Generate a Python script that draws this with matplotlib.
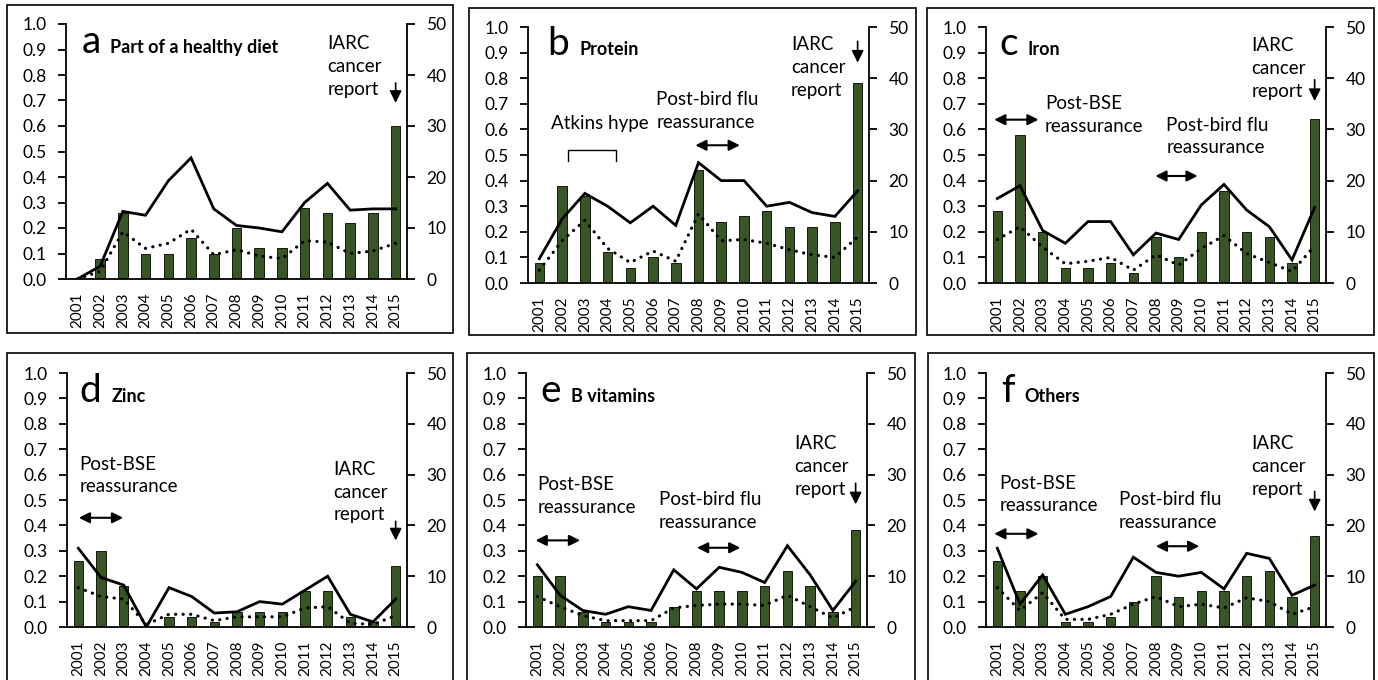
import matplotlib
matplotlib.use("Agg")
import matplotlib.pyplot as plt
import numpy as np
from matplotlib.patches import Rectangle

plt.rcParams['font.family'] = ['Lato', 'DejaVu Sans']

years = [str(y) for y in range(2001, 2016)]

# bars: counts (right axis), solid / dotted lines: proportions (left axis)
counts_a = [0, 4, 13, 5, 5, 8, 5, 10, 6, 6, 14, 13, 11, 13, 30]
solid_a = [0.0, 0.05, 0.265, 0.25, 0.385, 0.475, 0.275, 0.21, 0.20, 0.185, 0.30, 0.375, 0.27, 0.275, 0.275]
dotted_a = [0.0, 0.03, 0.185, 0.12, 0.14, 0.195, 0.095, 0.115, 0.09, 0.08, 0.15, 0.145, 0.10, 0.11, 0.14]

counts_b = [4, 19, 17, 6, 3, 5, 4, 22, 12, 13, 14, 11, 11, 12, 39]
solid_b = [0.095, 0.25, 0.35, 0.30, 0.235, 0.30, 0.225, 0.47, 0.40, 0.40, 0.30, 0.315, 0.275, 0.26, 0.36]
dotted_b = [0.05, 0.165, 0.245, 0.135, 0.08, 0.125, 0.085, 0.27, 0.165, 0.17, 0.155, 0.13, 0.11, 0.10, 0.18]

counts_c = [14, 29, 10, 3, 3, 4, 2, 9, 5, 10, 18, 10, 9, 4, 32]
solid_c = [0.33, 0.38, 0.205, 0.155, 0.24, 0.24, 0.11, 0.195, 0.17, 0.305, 0.385, 0.285, 0.22, 0.09, 0.295]
dotted_c = [0.17, 0.22, 0.14, 0.075, 0.085, 0.10, 0.05, 0.11, 0.07, 0.135, 0.185, 0.115, 0.08, 0.045, 0.145]

counts_d = [13, 15, 8, 0, 2, 2, 1, 3, 3, 3, 7, 7, 2, 1, 12]
solid_d = [0.31, 0.195, 0.165, 0.0, 0.155, 0.12, 0.055, 0.06, 0.10, 0.09, 0.145, 0.20, 0.05, 0.02, 0.11]
dotted_d = [0.155, 0.12, 0.11, 0.01, 0.05, 0.05, 0.025, 0.04, 0.04, 0.04, 0.075, 0.08, 0.015, 0.01, 0.045]

counts_e = [10, 10, 3, 1, 1, 1, 4, 7, 7, 7, 8, 11, 8, 3, 19]
solid_e = [0.245, 0.125, 0.065, 0.05, 0.08, 0.065, 0.225, 0.15, 0.235, 0.215, 0.175, 0.32, 0.205, 0.065, 0.18]
dotted_e = [0.12, 0.08, 0.045, 0.025, 0.025, 0.025, 0.075, 0.085, 0.09, 0.09, 0.085, 0.125, 0.08, 0.035, 0.08]

counts_f = [13, 7, 10, 1, 1, 2, 5, 10, 6, 7, 7, 10, 11, 6, 18]
solid_f = [0.31, 0.09, 0.205, 0.05, 0.08, 0.12, 0.275, 0.215, 0.20, 0.215, 0.15, 0.29, 0.27, 0.125, 0.165]
dotted_f = [0.155, 0.065, 0.135, 0.03, 0.03, 0.05, 0.09, 0.12, 0.08, 0.09, 0.075, 0.115, 0.10, 0.05, 0.08]

letters = ['a', 'b', 'c', 'd', 'e', 'f']
titles = ['Part of a healthy diet', 'Protein', 'Iron', 'Zinc', 'B vitamins', 'Others']

W, H = 1378, 680
fig = plt.figure(figsize=(W / 100, H / 100), dpi=100)

# pixel layout: axes (left, right, top, bottom) and frame (left, right, top, bottom)
axes_px = [(66, 407, 24, 279), (528, 869, 27, 283), (986, 1326, 27, 283),
           (67, 407, 373, 627), (526, 867, 373, 627), (986, 1326, 373, 627)]
frame_px = [(7, 453, 5, 333), (469, 916, 8, 335), (927, 1374, 8, 335),
            (7, 453, 353, 700), (467, 915, 353, 700), (928, 1374, 353, 700)]

# annotation layout per panel (x in category index, y in left-axis units)
letter_pos = [(0.2, 0.888, 1.45), (0.35, 0.89, 1.76), (0.1, 0.89, 1.32),
              (0.05, 0.886, 1.45), (0.15, 0.886, 1.5), (0.17, 0.886, 1.2)]
iarc = [(11.0, 0.955, 0.78, 0.68), (11.06, 0.965, 0.955, 0.85), (11.2, 0.96, 0.805, 0.70),
        (11.25, 0.655, 0.427, 0.33), (11.3, 0.755, 0.577, 0.472), (11.2, 0.755, 0.545, 0.444)]
bse = [None, None, (2.1, 0.735, -0.26, 1.94, 0.638), (0.05, 0.675, -0.1, 2.1, 0.43),
       (0.0, 0.595, -0.2, 2.0, 0.341), (0.1, 0.60, -0.26, 1.94, 0.367)]
flu = [None, (5.15, 0.75, 6.74, 8.94, 0.538), (7.45, 0.65, 6.85, 8.96, 0.418), None,
       (5.35, 0.535, 6.9, 9.05, 0.312), (5.37, 0.535, 6.87, 9.03, 0.318)]

all_counts = [counts_a, counts_b, counts_c, counts_d, counts_e, counts_f]
all_solid = [solid_a, solid_b, solid_c, solid_d, solid_e, solid_f]
all_dotted = [dotted_a, dotted_b, dotted_c, dotted_d, dotted_e, dotted_f]

x = np.arange(len(years))
bar_col = '#375623'
txt = 13.5
lsp = 1.42

for i in range(6):
    l, r, t, b = axes_px[i]
    ax = fig.add_axes([l / W, 1 - b / H, (r - l) / W, (b - t) / H])
    ax2 = ax.twinx()
    ax.set_zorder(2)
    ax2.set_zorder(1)
    ax.patch.set_visible(False)

    ax2.bar(x, all_counts[i], width=0.42, color=bar_col, edgecolor='black', linewidth=0.6)
    ax.plot(x, all_solid[i], color='black', lw=2.0, solid_joinstyle='miter')
    ax.plot(x, all_dotted[i], color='black', lw=2.3, linestyle=(0, (0.05, 2.3)), dash_capstyle='round')

    ax.set_xlim(-0.5, len(years) - 0.5)
    ax.set_ylim(0, 1.0)
    ax2.set_ylim(0, 50)
    ax.set_yticks(np.arange(0, 1.01, 0.1))
    ax.set_yticklabels(['%.1f' % v for v in np.arange(0, 1.01, 0.1)])
    ax2.set_yticks(range(0, 51, 10))
    ax.set_xticks(x)
    ax.set_xticklabels(years, rotation=90)

    for s in ['top', 'right']:
        ax.spines[s].set_visible(False)
    for s in ['top', 'left', 'bottom']:
        ax2.spines[s].set_visible(False)
    for sp in list(ax.spines.values()) + list(ax2.spines.values()):
        sp.set_linewidth(1.3)

    ax.tick_params(axis='y', direction='out', length=6, width=1.3, labelsize=12.5, pad=8)
    ax.tick_params(axis='x', length=0, labelsize=11, pad=10)
    ax2.tick_params(axis='y', direction='out', length=6, width=1.3, labelsize=12.5, pad=8)

    lx, ly, tx = letter_pos[i]
    ax.text(lx, ly, letters[i], fontsize=28, va='baseline', ha='left')
    ax.text(tx, ly, titles[i], fontsize=13, fontweight='bold', va='baseline', ha='left')

    ix, iy, a0, a1 = iarc[i]
    ax.text(ix, iy, 'IARC\ncancer\nreport', fontsize=txt, va='top', ha='left', linespacing=lsp)
    ax.annotate('', xy=(14, a1), xytext=(14, a0),
                arrowprops=dict(arrowstyle='-|>', color='black', lw=1.2, mutation_scale=18))

    if bse[i] is not None:
        bx, by, x0, x1, ay = bse[i]
        ax.text(bx, by, 'Post-BSE\nreassurance', fontsize=txt, va='top', ha='left', linespacing=lsp)
        ax.annotate('', xy=(x1, ay), xytext=(x0, ay),
                    arrowprops=dict(arrowstyle='<|-|>', color='black', lw=1.5, mutation_scale=16))
    if flu[i] is not None:
        fx, fy, x0, x1, ay = flu[i]
        ax.text(fx, fy, 'Post-bird flu\nreassurance', fontsize=txt, va='top', ha='left', linespacing=lsp)
        ax.annotate('', xy=(x1, ay), xytext=(x0, ay),
                    arrowprops=dict(arrowstyle='<|-|>', color='black', lw=1.5, mutation_scale=16))

    if i == 1:
        ax.text(0.53, 0.60, 'Atkins hype', fontsize=txt, va='baseline', ha='left')
        ax.plot([1.25, 1.25, 3.35, 3.35], [0.478, 0.52, 0.52, 0.478], color='black', lw=1.0)

    fl, fr, ft, fb = frame_px[i]
    fig.patches.append(Rectangle((fl / W, 1 - fb / H), (fr - fl) / W, (fb - ft) / H,
                                 transform=fig.transFigure, fill=False,
                                 edgecolor='black', linewidth=1.2))

fig.savefig('out.png', dpi=100)
